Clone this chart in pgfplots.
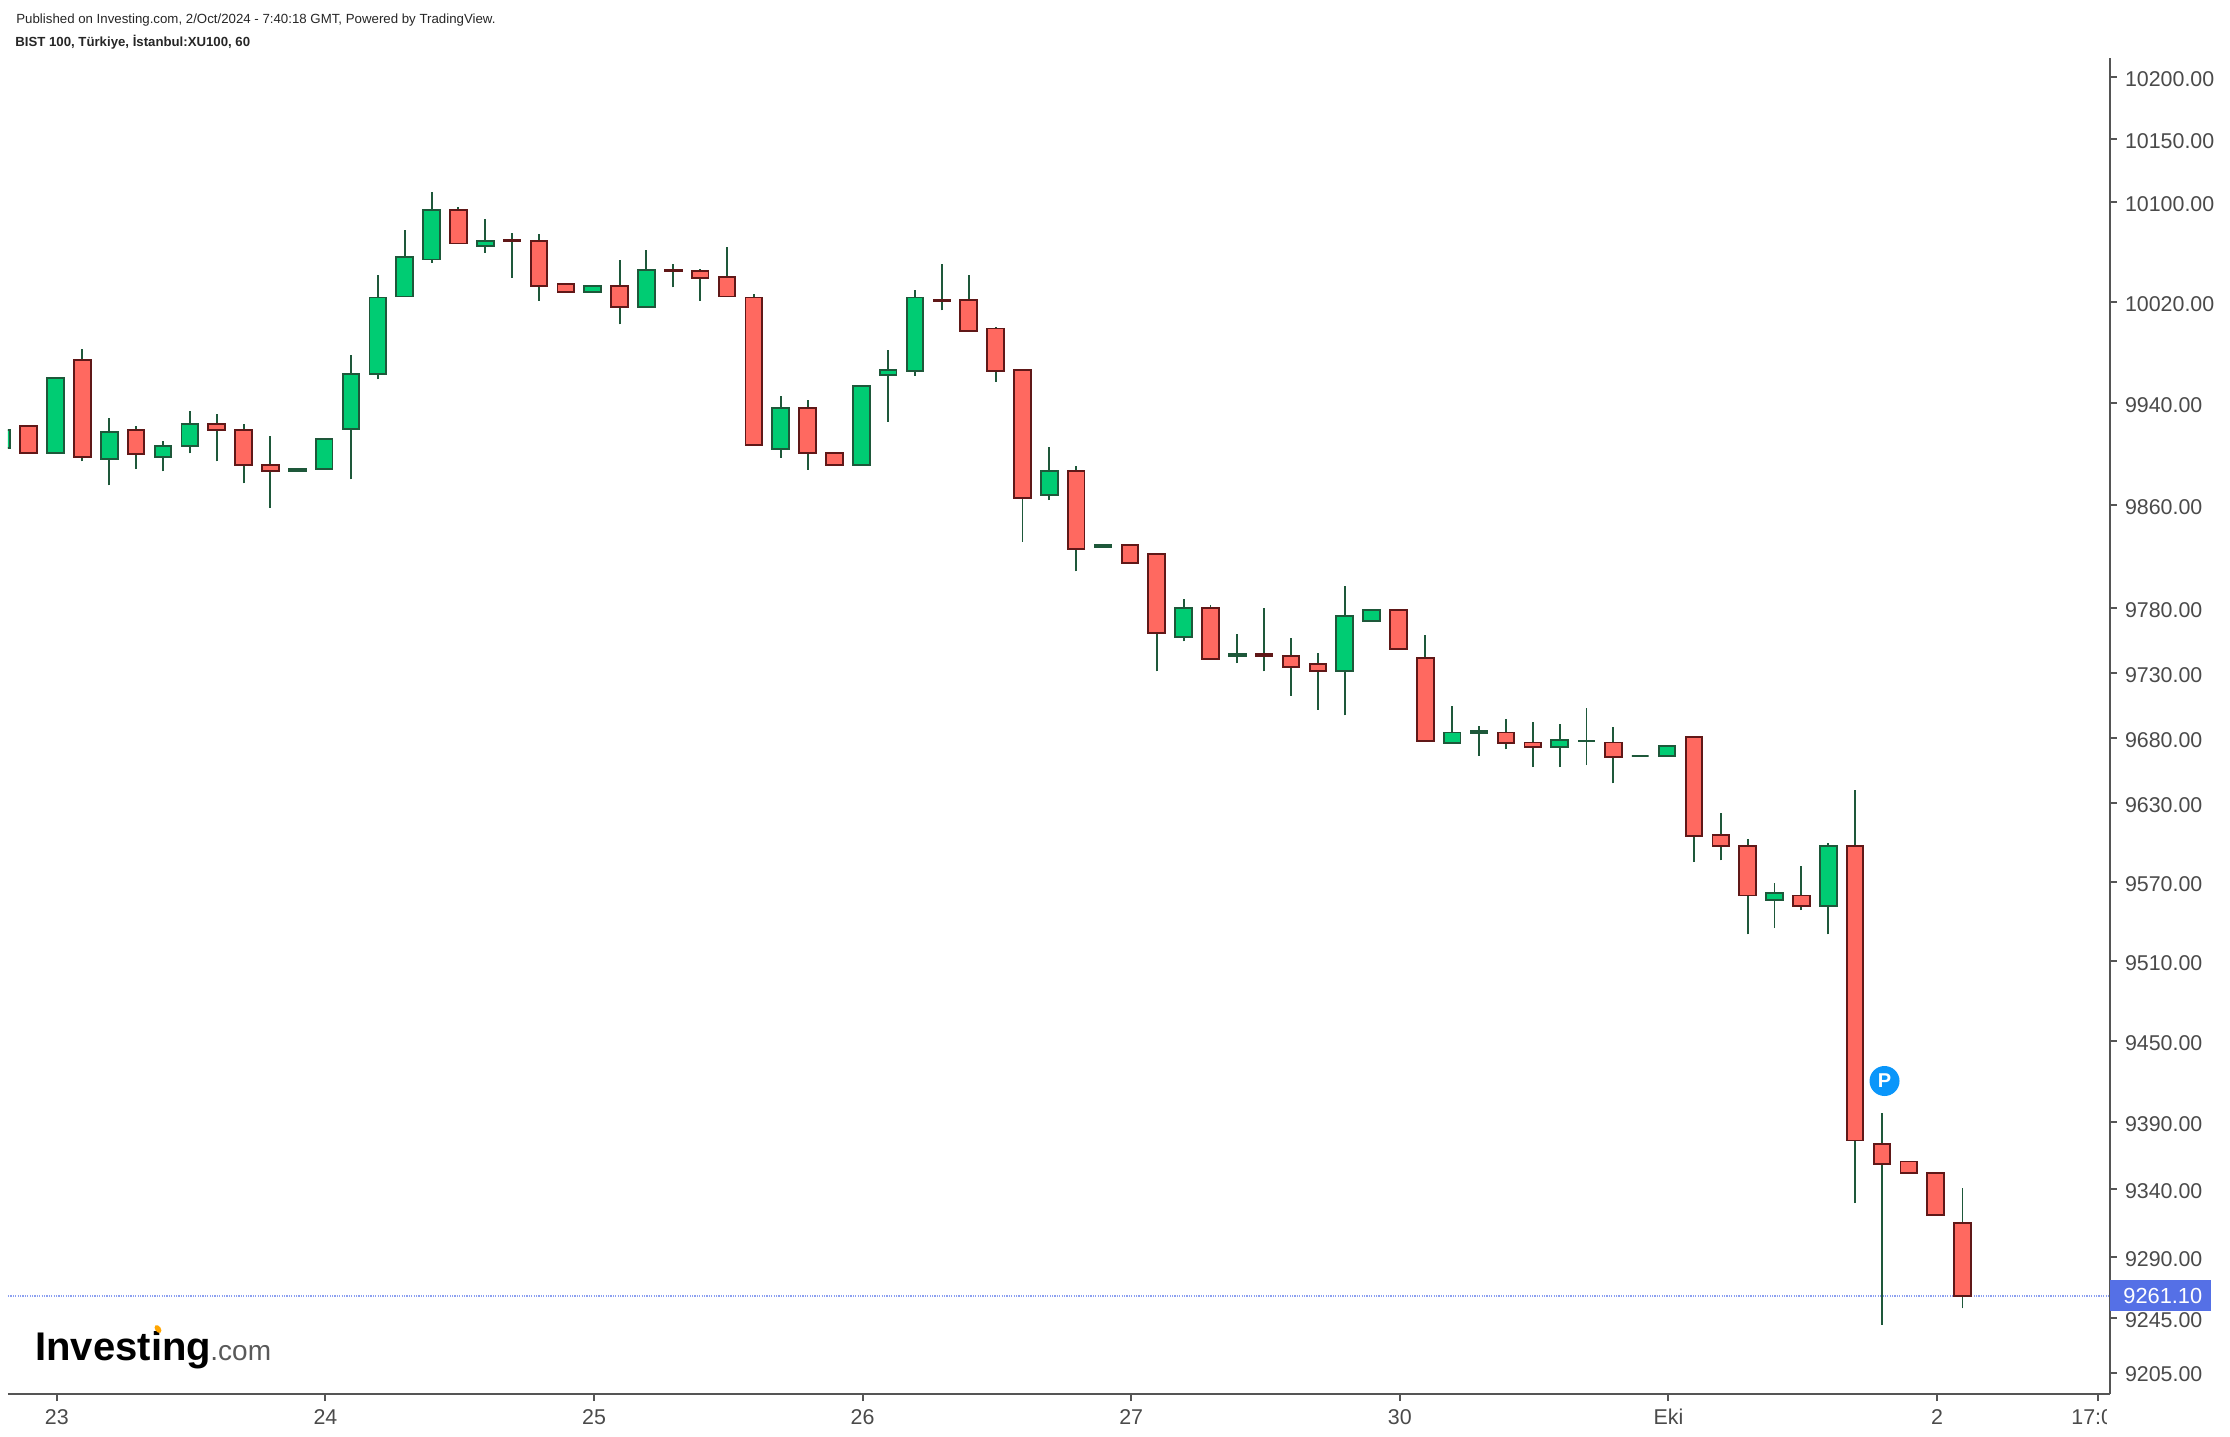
\documentclass[border=0pt]{standalone}
\usepackage{fontspec}
\setmainfont{Liberation Sans}
\usepackage{pgfplots}
\usepackage{pgfplotstable}
\pgfplotsset{compat=1.18}

\definecolor{upfill}{RGB}{0,204,115}
\definecolor{downfill}{RGB}{255,105,96}
\definecolor{upline}{RGB}{30,88,58}
\definecolor{downline}{RGB}{96,24,24}
\definecolor{axisgray}{RGB}{85,85,85}
\definecolor{labelgray}{RGB}{74,74,74}
\definecolor{pricetag}{RGB}{85,112,230}
\definecolor{priceline}{RGB}{140,160,240}
\definecolor{pinblue}{RGB}{10,150,250}
\definecolor{logodot}{RGB}{255,165,0}

% hourly candles, x = candle number (10 to a session)
\pgfplotstableread{
x   o       h       l       c
-2  9904.5  9918.6  9904.5  9918.6
-1  9921.7  9921.7  9901.2  9901.2
0   9901.2  9959.6  9901.2  9959.6
1   9973.7  9982.4  9894.3  9898.0
2   9896.4  9928.4  9875.4  9917.2
3   9918.6  9922.3  9888.2  9899.7
4   9897.8  9909.8  9886.6  9906.3
5   9906.1  9933.5  9900.7  9923.6
6   9923.6  9931.8  9894.3  9918.6
7   9918.6  9923.9  9877.1  9891.6
8   9891.6  9914.3  9858.1  9887.1
9   9887.1  9888.7  9887.1  9888.7
10  9888.7  9912.1  9888.7  9912.1
11  9920.2  9977.7  9880.2  9962.7
12  9962.7  10042.4 9959.0  10024.0
13  10025.7 10077.8 10025.7 10056.2
14  10054.3 10108.1 10052.4 10094.6
15  10094.6 10096.8 10067.5 10067.5
16  10065.7 10087.0 10060.2 10069.2
17  10070.5 10076.0 10039.7 10068.9
18  10068.9 10074.6 10020.5 10033.5
19  10035.4 10035.4 10028.8 10028.8
20  10028.8 10033.8 10028.8 10033.8
21  10033.6 10055.2 10002.7 10017.4
22  10017.4 10061.6 10017.4 10046.4
23  10046.4 10050.4 10032.8 10044.8
24  10045.0 10047.2 10021.6 10039.8
25  10040.2 10064.8 10025.4 10025.4
26  10024.2 10026.4 9907.1  9907.1
27  9903.9  9945.9  9897.1  9935.9
28  9935.9  9942.8  9887.6  9900.8
29  9901.2  9901.2  9891.3  9891.3
30  9891.3  9953.3  9891.3  9953.3
31  9962.2  9982.2  9925.4  9965.9
32  9965.4  10031.2 9961.7  10024.2
33  10022.4 10050.4 10013.7 10020.8
34  10022.6 10042.4 9996.9  9996.9
35  9999.0  10001.1 9957.0  9965.4
36  9965.9  9965.9  9831.4  9866.1
37  9867.7  9905.0  9864.0  9887.1
38  9887.1  9890.8  9808.5  9825.8
39  9827.5  9829.1  9827.5  9829.1
40  9829.3  9829.3  9815.0  9815.0
41  9821.6  9821.6  9731.0  9760.9
42  9757.8  9786.6  9754.2  9779.9
43  9779.9  9782.0  9740.8  9740.8
44  9742.6  9760.3  9737.2  9744.2
45  9744.2  9780.4  9731.0  9742.6
46  9742.8  9757.3  9712.5  9734.6
47  9736.6  9744.9  9701.6  9731.5
48  9731.5  9797.4  9697.0  9773.7
49  9770.2  9778.3  9770.2  9778.3
50  9778.3  9778.3  9748.5  9748.5
51  9741.3  9758.8  9677.5  9677.5
52  9676.0  9704.7  9676.0  9684.1
53  9683.8  9689.3  9666.4  9685.4
54  9684.1  9693.9  9670.9  9676.0
55  9676.4  9692.4  9657.3  9673.0
56  9673.0  9690.8  9657.3  9678.0
57  9677.7  9703.2  9658.8  9677.7
58  9676.4  9688.5  9645.2  9665.3
59  9666.0  9666.0  9666.0  9666.0
60  9665.6  9673.5  9665.6  9673.5
61  9680.6  9680.6  9585.1  9605.0
62  9605.4  9622.5  9586.6  9597.5
63  9597.5  9602.4  9530.5  9559.7
64  9556.3  9569.4  9535.0  9561.5
65  9559.7  9581.8  9548.8  9552.2
66  9552.2  9599.3  9530.5  9597.5
67  9597.5  9640.2  9329.5  9376.0
68  9373.1  9396.0  9240.0  9358.3
69  9360.2  9360.2  9352.0  9352.0
70  9352.0  9352.0  9321.0  9321.0
71  9314.8  9340.6  9252.0  9261.1
}\candles

\begin{document}
\begin{tikzpicture}
% page frame: 1 px of the reference = 0.5pt, origin at the axis corner
\useasboundingbox (-4pt,-21pt) rectangle (1111pt,697pt);
\begin{axis}[
  scale only axis,
  width=1051pt, height=668pt,
  % log price scale; ymode=log overflows on so narrow a range
  y coord trafo/.code={\pgfmathparse{1000*ln(#1/9200)}},
  xmin=-1.77, xmax=76.49,
  ymin=9190.4, ymax=10215.4,
  axis x line=bottom,
  axis y line=right,
  axis line style={-, draw=axisgray, line width=1pt},
  every tick/.style={draw=axisgray, line width=1pt},
  tick align=outside,
  major tick length=3.5pt,
  xminorticks=false, yminorticks=false,
  xtick={0.05,10.05,20.05,30.05,40.05,50.05,60.05,70.05,76.05},
  xticklabels={23,24,25,26,27,30,Eki,2,17:00},
  ytick={10200,10150,10100,10020,9940,9860,9780,9730,9680,9630,9570,9510,9450,9390,9340,9290,9245,9205},
  yticklabels={10200.00,10150.00,10100.00,10020.00,9940.00,9860.00,9780.00,9730.00,9680.00,9630.00,9570.00,9510.00,9450.00,9390.00,9340.00,9290.00,9245.00,9205.00},
  ticklabel style={font=\fontsize{10.7}{12}\selectfont, text=labelgray},
  yticklabel style={xshift=0.5pt, yshift=-1pt},
  xticklabel style={yshift=-0.5pt},
]
\addplot[priceline, line width=0.6pt, dash pattern=on 0.6pt off 0.6pt]
  coordinates {(-1.77,9261.1) (76.49,9261.1)};

\pgfplotstablegetrowsof{\candles}
\pgfmathtruncatemacro\lastrow{\pgfplotsretval-1}
\foreach \r in {0,...,\lastrow} {
  \pgfplotstablegetelem{\r}{x}\of\candles \let\cx\pgfplotsretval
  \pgfplotstablegetelem{\r}{o}\of\candles \let\co\pgfplotsretval
  \pgfplotstablegetelem{\r}{h}\of\candles \let\ch\pgfplotsretval
  \pgfplotstablegetelem{\r}{l}\of\candles \let\cl\pgfplotsretval
  \pgfplotstablegetelem{\r}{c}\of\candles \let\cc\pgfplotsretval
  \pgfmathsetmacro\xa{\cx-0.31}
  \pgfmathsetmacro\xb{\cx+0.31}
  \ifdim\cc pt<\co pt
    \def\bodydraw{downline}\def\bodyfill{downfill}
  \else
    \def\bodydraw{upline}\def\bodyfill{upfill}
  \fi
  \edef\temp{%
    \noexpand\addplot[upline, line width=0.95pt] coordinates {(\cx,\cl) (\cx,\ch)};
    \noexpand\addplot[draw=\bodydraw, fill=\bodyfill, line width=0.95pt]
      coordinates {(\xa,\co) (\xb,\co) (\xb,\cc) (\xa,\cc)} --cycle;
  }\temp
}
\end{axis}

% last price tag over the scale
\fill[pricetag] (1050.75pt,41.5pt) rectangle (1101.5pt,57pt);
\node[anchor=base west, inner sep=0pt, text=white, font=\fontsize{10.9}{12}\selectfont]
  at (1057.5pt,45.4pt) {9261.10};

% the 17:00 label is cut by the chart edge
\fill[white] (1049.5pt,-21pt) rectangle (1111pt,-1pt);

% header
\node[anchor=base west, inner sep=0pt, text=black!85, font=\fontsize{6.63}{8}\selectfont]
  at (4pt,685.2pt) {Published on Investing.com, 2/Oct/2024 - 7:40:18 GMT, Powered by TradingView.};
\node[anchor=base west, inner sep=0pt, text=black!85, font=\bfseries\fontsize{6.6}{8}\selectfont]
  at (3.5pt,673.6pt) {BIST 100, Türkiye, İstanbul:XU100, 60};

% publication pin
\fill[pinblue] (938.25pt,156.5pt) circle (7.5pt);
\node[text=white, inner sep=0pt, font=\bfseries\fontsize{10}{12}\selectfont] at (938.25pt,156.5pt) {P};

% logo
\node[anchor=base west, inner sep=0pt, text=black, font=\bfseries\fontsize{20}{24}\selectfont]
  at (13.5pt,17pt) {Investing};
\node[anchor=base west, inner sep=0pt, text=black!65, font=\fontsize{14}{16}\selectfont]
  at (101pt,17pt) {.com};
\fill[logodot, rotate around={35:(75pt,32.5pt)}] (75pt,32.5pt) ellipse (1.4pt and 2.2pt);
\end{tikzpicture}
\end{document}
